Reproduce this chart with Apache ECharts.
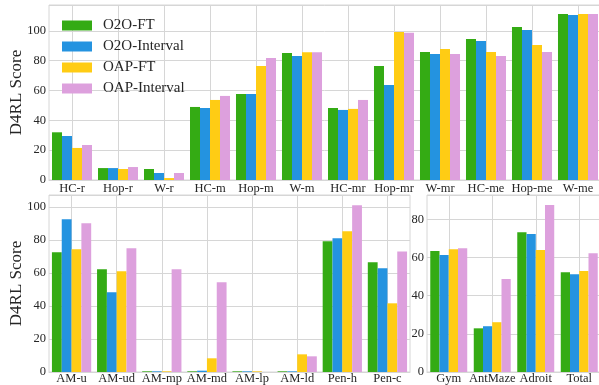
<!DOCTYPE html>
<html>
<head>
<meta charset="utf-8">
<script src="https://cdn.jsdelivr.net/npm/echarts@6/dist/echarts.min.js"></script>
<style>
html,body{margin:0;padding:0;background:#fff;}
#c{width:599px;height:385px;}
</style>
</head>
<body>
<div id="c"></div>
<script>
// ---- data ----
var seriesNames = ['O2O-FT', 'O2O-Interval', 'OAP-FT', 'OAP-Interval'];
var colors = ['#34ab14', '#2493e0', '#ffcc14', '#dda0dd'];

var topCats = ['HC-r','Hop-r','W-r','HC-m','Hop-m','W-m','HC-mr','Hop-mr','W-mr','HC-me','Hop-me','W-me'];
var topO2OFT   = [32.0, 8.0, 7.4, 49.0, 57.7, 85.2, 48.3, 76.5, 85.9, 94.6, 102.7, 111.4];
var topO2OInt  = [29.5, 8.0, 4.7, 48.3, 57.7, 83.2, 47.0, 63.8, 84.6, 93.3, 100.7, 110.7];
var topOAPFT   = [21.5, 7.4, 1.3, 53.7, 76.5, 85.7, 47.7, 99.3, 87.9, 85.9, 90.6, 111.4];
var topOAPInt  = [23.5, 8.7, 4.7, 56.4, 81.9, 85.7, 53.7, 98.7, 84.6, 83.2, 85.9, 111.4];

var amCats = ['AM-u','AM-ud','AM-mp','AM-md','AM-lp','AM-ld','Pen-h','Pen-c'];
var amO2OFT  = [72.5, 62.2, 0.4, 0.4, 0.4, 0.4, 79.2, 66.5];
var amO2OInt = [92.5, 48.3, 0.4, 0.8, 0.4, 0.4, 81.0, 62.8];
var amOAPFT  = [74.4, 61.0, 0.4, 8.3, 0.4, 10.7, 85.3, 41.6];
var amOAPInt = [90.1, 75.0, 62.2, 54.4, 0, 9.5, 101.0, 73.0];

var sumCats = ['Gym','AntMaze','Adroit','Total'];
var sumO2OFT  = [63.4, 22.9, 73.3, 52.3];
var sumO2OInt = [61.3, 24.0, 72.3, 51.3];
var sumOAPFT  = [64.4, 26.1, 63.9, 52.9];
var sumOAPInt = [64.9, 48.7, 87.5, 62.3];

var yTickStep = 20;

// ---- chart ----
var FONT = '"Liberation Serif", "Times New Roman", serif';
var GRIDC = '#d6d6d6';
var TXT = '#262626';

function xAxis(gi, cats, margin) {
  return {
    type: 'category', gridIndex: gi, data: cats, position: 'bottom',
    axisLine: {show: true, lineStyle: {color: GRIDC, width: 1}},
    axisTick: {show: false},
    axisLabel: {fontFamily: FONT, fontSize: 12.5, color: TXT, margin: margin, interval: 0},
    splitLine: {show: false}
  };
}
// helper axis that only draws vertical grid lines through the category centres
function centreAxis(gi, cats) {
  var half = [];
  for (var i = 0; i <= cats.length * 2; i++) half.push(String(i));
  return {
    type: 'category', gridIndex: gi, data: half, boundaryGap: false, position: 'top',
    axisLine: {show: false}, axisTick: {show: false}, axisLabel: {show: false},
    splitLine: {show: true, interval: function (idx) { return idx % 2 === 1; },
                lineStyle: {color: GRIDC, width: 1}}
  };
}
function yAxis(gi, max, name) {
  return {
    type: 'value', gridIndex: gi, min: 0, max: max, interval: yTickStep,
    name: name || '', nameLocation: 'middle', nameGap: 24, nameRotate: 90,
    nameMoveOverlap: false,
    nameTextStyle: {fontFamily: FONT, fontSize: 17, color: TXT},
    axisLine: {show: false}, axisTick: {show: false},
    axisLabel: {fontFamily: FONT, fontSize: 12.5, color: TXT, margin: 3, showMaxLabel: false},
    splitLine: {show: true, lineStyle: {color: GRIDC, width: 1}}
  };
}
var groups = [
  [topO2OFT, topO2OInt, topOAPFT, topOAPInt],
  [amO2OFT, amO2OInt, amOAPFT, amOAPInt],
  [sumO2OFT, sumO2OInt, sumOAPFT, sumOAPInt]
];
var series = [];
groups.forEach(function (g, gi) {
  g.forEach(function (d, si) {
    series.push({
      type: 'bar', name: seriesNames[si], xAxisIndex: gi, yAxisIndex: gi,
      data: d, barGap: '0%', barCategoryGap: gi === 2 ? '15%' : '13%',
      itemStyle: {color: colors[si]}, silent: true, z: 3
    });
  });
});

var gridBase = {show: true, borderColor: GRIDC, borderWidth: 1, containLabel: false, outerBoundsMode: 'none'};
function grid(o) { return Object.assign({}, gridBase, o); }

var chart = echarts.init(document.getElementById('c'), null, {renderer: 'canvas'});
chart.setOption({
  animation: false,
  backgroundColor: '#fff',
  grid: [
    grid({left: 49, top: 5, width: 552, height: 175}),
    grid({left: 49, top: 195, width: 361, height: 177}),
    grid({left: 427, top: 195, width: 174, height: 177})
  ],
  legend: {
    left: 62, top: 15, orient: 'vertical', itemWidth: 30, itemHeight: 10, itemGap: 0, padding: 0,
    icon: 'rect', data: seriesNames,
    textStyle: {fontFamily: FONT, fontSize: 15, color: TXT, lineHeight: 21, padding: [0, 0, 0, 6]}
  },
  xAxis: [xAxis(0, topCats, 2), xAxis(1, amCats, 0), xAxis(2, sumCats, 0),
          centreAxis(0, topCats), centreAxis(1, amCats), centreAxis(2, sumCats)],
  yAxis: [yAxis(0, 117.4, 'D4RL Score'), yAxis(1, 107.2, 'D4RL Score'), yAxis(2, 92.8)],
  series: series
});
</script>
</body>
</html>
